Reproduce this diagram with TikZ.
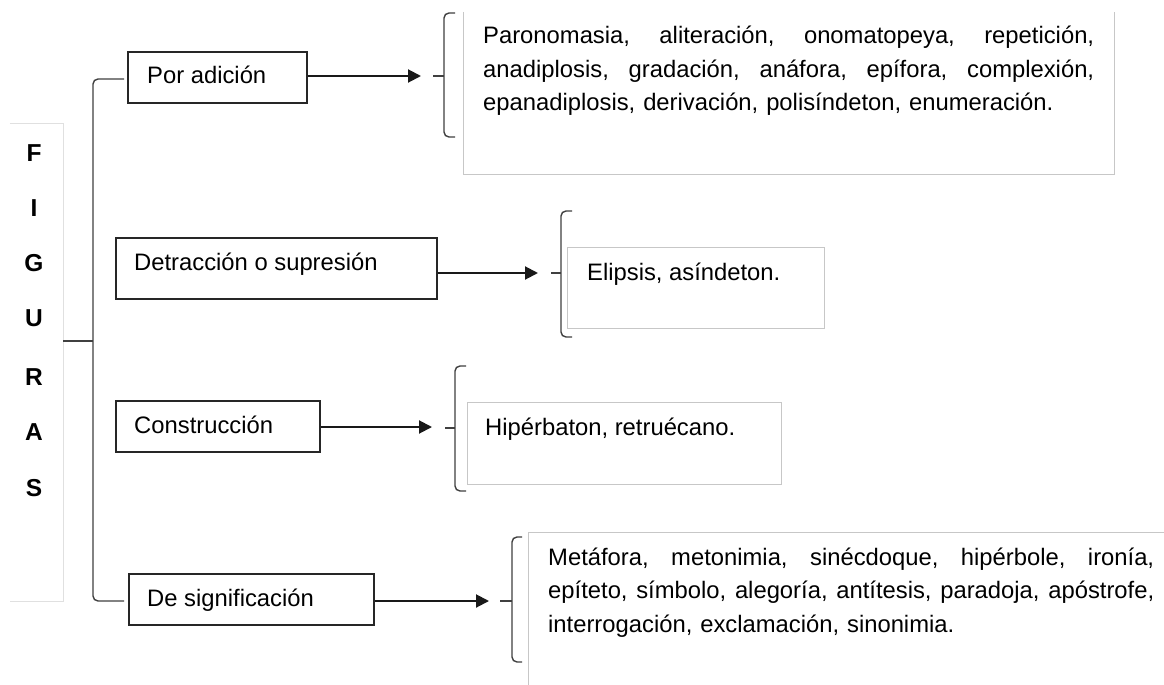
\documentclass[tikz,border=0pt]{standalone}
\usepackage{fontspec}
\setmainfont{Liberation Sans}
\usetikzlibrary{arrows.meta}
\begin{document}
\begin{tikzpicture}[x=1pt,y=-1pt,
  txt/.style={font=\fontsize{23.8}{33.5}\selectfont, inner sep=0pt},
  letter/.style={font=\fontsize{24.5}{24.5}\selectfont\bfseries, inner sep=0pt, anchor=base},
  catbox/.style={draw=black!85, line width=1.4pt, inner sep=0pt},
  leafbox/.style={draw=black!22, line width=1pt, inner sep=0pt},
  ghost/.style={inner sep=0pt},
  conn/.style={line width=2pt, black!90, -{Triangle[length=13pt,width=13pt]}},
  brk/.style={line width=1.4pt, black!75, rounded corners=5pt}]
\fill[white] (0,0) rectangle (1164,685);
\useasboundingbox (0,0) rectangle (1164,685);

% FIGURAS frame
\node[ghost, minimum width=53pt, minimum height=477pt] (fig) at (36.5,362.5) {};
\draw[black!12, line width=1pt] (fig.north west) -- (fig.north east) -- (fig.south east) -- (fig.south west);
\node[letter] (lF) at (34,161) {F};
\node[letter] (lI) at (34,216.5) {I};
\node[letter] (lG) at (34,271.5) {G};
\node[letter] (lU) at (34,326.5) {U};
\node[letter] (lR) at (34,385) {R};
\node[letter] (lA) at (34,440.5) {A};
\node[letter] (lS) at (34,496.5) {S};

% main bracket
\coordinate (mtick) at (93,341);
\draw[brk] (124,79) -- (93,79) -- (93,601) -- (124,601);
\draw[brk] (fig.east |- mtick) -- (mtick);

% category boxes
\node[catbox, minimum width=179pt, minimum height=51pt] (b1) at (217.5,77.5) {};
\node[txt, anchor=base west] (b1t) at (147,84) {Por adición};
\node[catbox, minimum width=321pt, minimum height=61pt] (b2) at (276.5,268.5) {};
\node[txt, anchor=base west] (b2t) at (134,270) {Detracción o supresión};
\node[catbox, minimum width=204pt, minimum height=51pt] (b3) at (218,426.5) {};
\node[txt, anchor=base west] (b3t) at (134,433) {Construcción};
\node[catbox, minimum width=245pt, minimum height=51pt] (b4) at (251.5,599.5) {};
\node[txt, anchor=base west] (b4t) at (147,606) {De significación};

% arrows
\coordinate (a1) at (421,76);
\coordinate (a2) at (538,273);
\coordinate (a3) at (432,427);
\coordinate (a4) at (489,601);
\draw[conn] (b1.east |- a1) -- (a1);
\draw[conn] (b2.east |- a2) -- (a2);
\draw[conn] (b3.east |- a3) -- (a3);
\draw[conn] (b4.east |- a4) -- (a4);

% small brackets
\draw[brk] (455,13) -- (444,13) -- (444,137) -- (455,137);
\draw[brk] (433,76) -- (444,76);
\draw[brk] (572,211) -- (561,211) -- (561,337) -- (572,337);
\draw[brk] (551,273) -- (561,273);
\draw[brk] (466,366) -- (455,366) -- (455,491) -- (466,491);
\draw[brk] (445,428) -- (455,428);
\draw[brk] (522,537) -- (512,537) -- (512,662) -- (522,662);
\draw[brk] (500,601) -- (512,601);

% leaf boxes
\node[ghost, minimum width=650pt, minimum height=162pt] (l1) at (789,93) {};
\draw[black!22, line width=1pt] (l1.north west) -- (l1.south west) -- (l1.south east) -- (l1.north east);
\node[txt, text width=611pt, anchor=base west] (l1t) at (483,44)
  {\leavevmode\hbox to 611pt{Paronomasia,\hfill aliteración,\hfill onomatopeya,\hfill repetición,}\\
   \leavevmode\hbox to 611pt{anadiplosis,\hfill gradación,\hfill anáfora,\hfill epífora,\hfill complexión,}\\
   epanadiplosis, derivación, polisíndeton, enumeración.};

\node[leafbox, minimum width=257pt, minimum height=81pt] (l2) at (695.5,287.5) {};
\node[txt, anchor=base west] (l2t) at (587,280) {Elipsis, asíndeton.};

\node[leafbox, minimum width=314pt, minimum height=82pt] (l3) at (624,443) {};
\node[txt, anchor=base west] (l3t) at (485,435) {Hipérbaton, retruécano.};

\node[ghost, minimum width=635pt, minimum height=152pt] (l4) at (846.5,609) {};
\draw[black!22, line width=1pt] (l4.south west) -- (l4.north west) -- (l4.north east);
\node[txt, text width=606pt, anchor=base west] (l4t) at (548,565)
  {\leavevmode\hbox to 606pt{Metáfora,\hfill metonimia,\hfill sinécdoque,\hfill hipérbole,\hfill ironía,}\\
   \leavevmode\hbox to 606pt{epíteto,\hfill símbolo,\hfill alegoría,\hfill antítesis,\hfill paradoja,\hfill apóstrofe,}\\
   interrogación, exclamación, sinonimia.};
\end{tikzpicture}
\end{document}
